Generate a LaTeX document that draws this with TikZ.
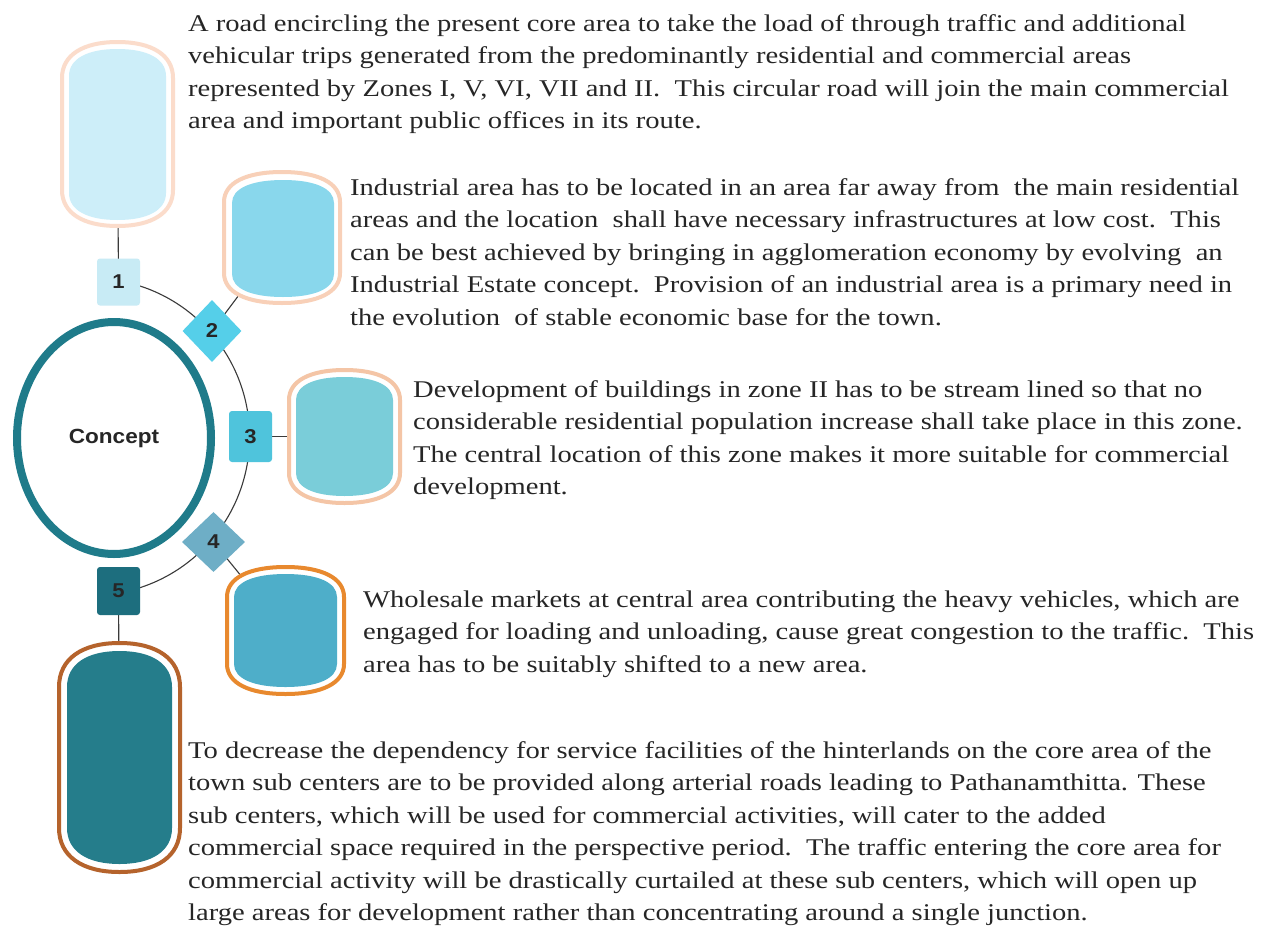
\documentclass[tikz,border=0pt]{standalone}
\usepackage{fontspec}
\setmainfont{Liberation Serif}[FakeStretch=1.19]
\newfontfamily\lsans{Liberation Sans}[FakeStretch=1.1]
\usetikzlibrary{shapes.geometric}
\definecolor{txt}{HTML}{262626}
\definecolor{bA}{HTML}{FBDCCB}
\definecolor{fA}{HTML}{CDEEF9}
\definecolor{bB}{HTML}{F8D0B8}
\definecolor{fB}{HTML}{89D7EC}
\definecolor{bC}{HTML}{F4C5A6}
\definecolor{fC}{HTML}{7ACDD9}
\definecolor{bD}{HTML}{E8892E}
\definecolor{fD}{HTML}{4EAEC9}
\definecolor{bE}{HTML}{B5632C}
\definecolor{fE}{HTML}{257D8B}
\definecolor{mA}{HTML}{C8EBF5}
\definecolor{mB}{HTML}{55CFE9}
\definecolor{mC}{HTML}{4FC4DC}
\definecolor{mD}{HTML}{6EAEC6}
\definecolor{mE}{HTML}{1D6E7E}
\definecolor{ring}{HTML}{1F7B8A}
\definecolor{road}{HTML}{3A3A3A}
% can-like capsule: #1 x1, #2 y1, #3 x2, #4 y2, #5 curve depth, #6 style
\newcommand\canshape[6]{%
  \pgfmathsetmacro\cshxm{(#1+#3)/2}%
  \pgfmathsetmacro\cshhw{(#3-#1)/2}%
  \pgfmathsetmacro\cshka{#2+0.36*#5}%
  \pgfmathsetmacro\cshkb{#4-0.36*#5}%
  \pgfmathsetmacro\cshxa{\cshxm-0.62*\cshhw}%
  \pgfmathsetmacro\cshxb{\cshxm+0.62*\cshhw}%
  \path[#6] (#1,#2+#5) .. controls (#1,\cshka) and (\cshxa,#2) .. (\cshxm,#2)
    .. controls (\cshxb,#2) and (#3,\cshka) .. (#3,#2+#5) -- (#3,#4-#5)
    .. controls (#3,\cshkb) and (\cshxb,#4) .. (\cshxm,#4)
    .. controls (\cshxa,#4) and (#1,\cshkb) .. (#1,#4-#5) -- cycle;}
\begin{document}
\begin{tikzpicture}[x=1pt,y=-1pt,
  body/.style={anchor=north west, inner sep=0pt, align=left, text=txt,
    font=\fontsize{24}{32.5}\selectfont},
  outerbox/.style={draw=#1, line width=4pt, fill=white},
  innerbox/.style={fill=#1},
  sqmark/.style={rectangle, rounded corners=3pt, fill=#1, inner sep=0pt,
    font=\lsans\bfseries\fontsize{20}{20}\selectfont, text=txt},
  dmmark/.style={diamond, fill=#1, inner sep=0pt,
    font=\lsans\bfseries\fontsize{20}{20}\selectfont, text=txt},
  link/.style={draw=road, line width=1.1pt}]
\useasboundingbox (0,0) rectangle (1266,926);
\fill[white] (0,0) rectangle (1266,926);

% anchor points
\coordinate (c1) at (117.5,134);
\coordinate (c2) at (282,237.5);
\coordinate (c3) at (344.5,436.5);
\coordinate (c4) at (285.5,630.5);
\coordinate (c5) at (119.5,757.5);
\coordinate (p1) at (118.5,282);
\coordinate (p2) at (212,331);
\coordinate (p3) at (250.5,436.5);
\coordinate (p4) at (213.5,542);
\coordinate (p5) at (118.5,591);
\coordinate (arcstart) at (140,286);

% connectors (shapes drawn over them)
\draw[link] (arcstart) arc[start angle=-72, end angle=72, radius=158.6];
\draw[link] (c1) -- (p1);
\draw[link] (p2) -- (c2);
\draw[link] (p3) -- (c3);
\draw[link] (p4) -- (c4);
\draw[link] (p5) -- (c5);

% shapes
\canshape{62}{42}{173}{226}{36}{outerbox=bA}
\canshape{69}{49}{166}{220}{27}{innerbox=fA}
\canshape{224}{172}{340}{303}{30}{outerbox=bB}
\canshape{232}{180}{334}{297}{23}{innerbox=fB}
\canshape{289}{370}{400}{503}{30}{outerbox=bC}
\canshape{296}{377}{393}{496}{23}{innerbox=fC}
\canshape{227}{567}{344}{694}{30}{outerbox=bD}
\canshape{234}{574}{337}{687}{23}{innerbox=fD}
\canshape{59}{643}{180}{872}{44}{outerbox=bE}
\canshape{67}{651}{172}{864}{36}{innerbox=fE}

% concept ring
\node[ellipse, draw=ring, line width=8pt, fill=white, minimum width=194pt, minimum height=232pt,
  font=\lsans\bfseries\fontsize{20.5}{20.5}\selectfont, text=txt] (concept) at (114,438) {Concept};

% markers
\node[sqmark=mA, minimum width=43pt, minimum height=47pt] (m1) at (p1) {1};
\node[dmmark=mB, minimum width=59pt, minimum height=62pt] (m2) at (p2) {2};
\node[sqmark=mC, minimum width=43pt, minimum height=51pt] (m3) at (p3) {3};
\node[dmmark=mD, minimum width=63pt, minimum height=60pt] (m4) at (p4) {4};
\node[sqmark=mE, minimum width=43pt, minimum height=48pt] (m5) at (p5) {5};

% texts
\node[body] (t1) at (188,11) {\rule{0pt}{20pt}A road encircling the present core area to take the load of through traffic and additional\\
vehicular trips generated from the predominantly residential and commercial areas\\
represented by Zones I, V, VI, VII and II.\ \ This circular road will join the main commercial\\
area and important public offices in its route.};

\node[body] (t2) at (350,175) {\rule{0pt}{20pt}Industrial area has to be located in an area far away from\ \ the main residential\\
areas and the location\ \ shall have necessary infrastructures at low cost.\ \ This\\
can be best achieved by bringing in agglomeration economy by evolving\ \ an\\
Industrial Estate concept.\ \ Provision of an industrial area is a primary need in\\
the evolution\ \ of stable economic base for the town.};

\node[body] (t3) at (413,377) {\rule{0pt}{20pt}Development of buildings in zone II has to be stream lined so that no\\
considerable residential population increase shall take place in this zone.\\
The central location of this zone makes it more suitable for commercial\\
development.};

\node[body] (t4) at (363,587) {\rule{0pt}{20pt}Wholesale markets at central area contributing the heavy vehicles, which are\\
engaged for loading and unloading, cause great congestion to the traffic.\ \ This\\
area has to be suitably shifted to a new area.};

\node[body] (t5) at (188,738) {\rule{0pt}{20pt}To decrease the dependency for service facilities of the hinterlands on the core area of the\\
town sub centers are to be provided along arterial roads leading to Pathanamthitta. These\\
sub centers, which will be used for commercial activities, will cater to the added\\
commercial space required in the perspective period.\ \ The traffic entering the core area for\\
commercial activity will be drastically curtailed at these sub centers, which will open up\\
large areas for development rather than concentrating around a single junction.};
\end{tikzpicture}
\end{document}
